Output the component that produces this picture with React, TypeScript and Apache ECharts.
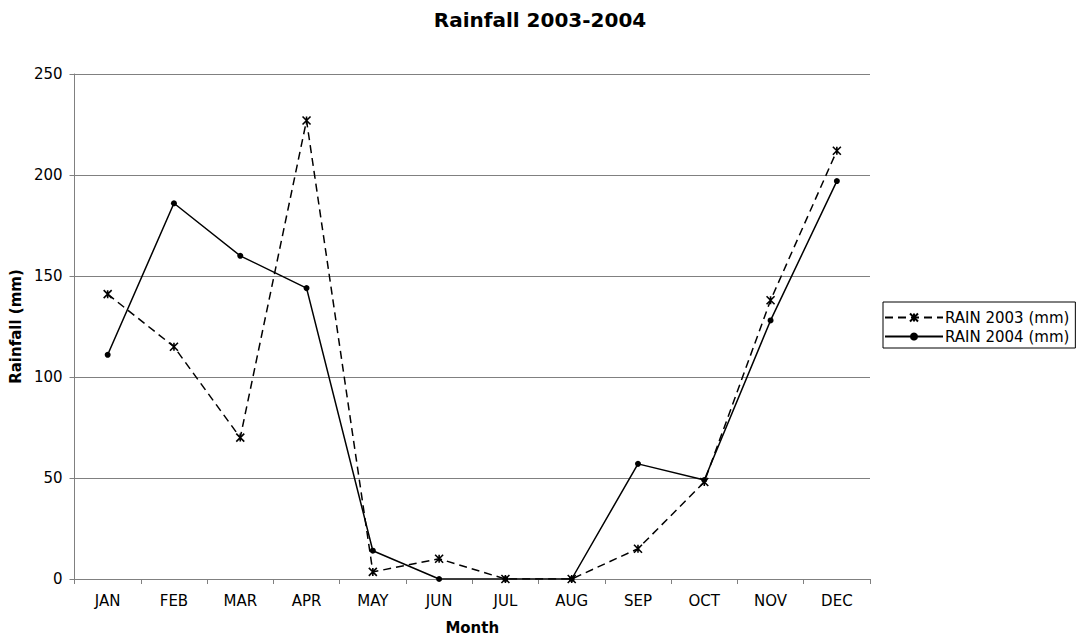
import React, { useEffect, useRef } from "react";
import * as echarts from "echarts";

const months = ["JAN", "FEB", "MAR", "APR", "MAY", "JUN", "JUL", "AUG", "SEP", "OCT", "NOV", "DEC"];
const rain2003 = [141, 115, 70, 227, 3.5, 10, 0, 0, 15, 48, 138, 212];
const rain2004 = [111, 186, 160, 144, 14, 0, 0, 0, 57, 49, 128, 197];
const yTicks = { min: 0, max: 250, interval: 50 };

const FONT = "DejaVu Sans";
const asterisk = "path://M0,0L10,10M10,0L0,10M5,0L5,10";

export default function App() {
  const ref = useRef<HTMLDivElement>(null);
  useEffect(() => {
    if (!ref.current) return;
    const chart = echarts.init(ref.current, null, { renderer: "svg" });
    chart.setOption({
      animation: false,
      backgroundColor: "#fff",
      textStyle: { fontFamily: FONT, color: "#000" },
      title: {
        text: "Rainfall 2003-2004",
        left: 540,
        textAlign: "center",
        top: 10,
        padding: 0,
        textStyle: { fontFamily: FONT, fontSize: 20, fontWeight: "bold", color: "#000" },
      },
      legend: {
        orient: "vertical",
        left: 883,
        top: 302,
        itemWidth: 58,
        itemHeight: 10,
        itemGap: 4,
        padding: [8, 6, 4, 1],
        borderColor: "#000",
        borderWidth: 1,
        borderRadius: 0,
        backgroundColor: "#fff",
        textStyle: { fontFamily: FONT, fontSize: 15, color: "#000", padding: [0, 0, 0, -3] },
        data: ["RAIN 2003 (mm)", "RAIN 2004 (mm)"],
      },
      grid: { left: 72, right: 214, top: 74, bottom: 57, containLabel: false },
      xAxis: {
        type: "category",
        data: months,
        boundaryGap: true,
        name: "Month",
        nameLocation: "middle",
        nameGap: 41,
        nameTextStyle: { fontFamily: FONT, fontSize: 15, fontWeight: "bold", color: "#000" },
        axisLine: { lineStyle: { color: "#808080", width: 1 } },
        axisTick: { show: true, alignWithLabel: false, length: 5, inside: false, lineStyle: { color: "#808080" } },
        axisLabel: { fontFamily: FONT, fontSize: 15, color: "#000", margin: 14 },
        splitLine: { show: false },
      },
      yAxis: {
        type: "value",
        min: yTicks.min,
        max: yTicks.max,
        interval: yTicks.interval,
        name: "Rainfall (mm)",
        nameLocation: "middle",
        nameGap: 47,
        nameRotate: 90,
        nameTextStyle: { fontFamily: FONT, fontSize: 15, fontWeight: "bold", color: "#000" },
        axisLine: { show: true, lineStyle: { color: "#808080", width: 1 } },
        axisTick: { show: true, length: 5, lineStyle: { color: "#808080" } },
        axisLabel: { fontFamily: FONT, fontSize: 15, color: "#000", margin: 12 },
        splitLine: { show: true, lineStyle: { color: "#808080", width: 1 } },
      },
      series: [
        {
          name: "RAIN 2003 (mm)",
          type: "line",
          data: rain2003,
          symbol: asterisk,
          symbolSize: 8,
          showAllSymbol: true,
          lineStyle: { color: "#000", width: 1.5, type: [8, 5] },
          itemStyle: { color: "#000", borderColor: "#000", borderWidth: 1.6 },
        },
        {
          name: "RAIN 2004 (mm)",
          type: "line",
          data: rain2004,
          symbol: "circle",
          symbolSize: 6,
          showAllSymbol: true,
          lineStyle: { color: "#000", width: 1.5, type: "solid" },
          itemStyle: { color: "#000", borderColor: "#000", borderWidth: 0 },
        },
      ],
    });
    return () => chart.dispose();
  }, []);
  return <div ref={ref} style={{ width: 1084, height: 640, position: "absolute", left: 0, top: 0 }} />;
}
